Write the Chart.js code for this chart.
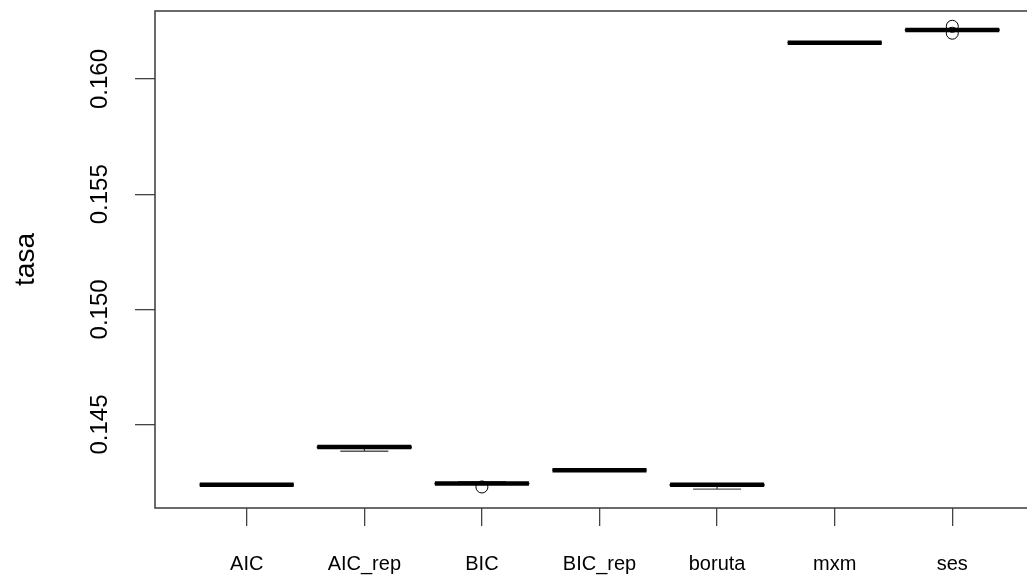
<!DOCTYPE html>
<html>
<head>
<meta charset="utf-8">
<script src="https://cdn.jsdelivr.net/npm/chart.js@4"></script>
<style>
  html, body { margin: 0; padding: 0; background: #fff; overflow: hidden; }
  canvas { display: block; }
</style>
</head>
<body>
<canvas id="chart" width="1044" height="580"></canvas>
<script>
// values
const categories = ["AIC", "AIC_rep", "BIC", "BIC_rep", "boruta", "mxm", "ses"];
const medians    = [0.14239, 0.14403, 0.14244, 0.14302, 0.14239, 0.16158, 0.16213];
const q1         = [0.14239, 0.14399, 0.14243, 0.14302, 0.14236, 0.16158, 0.16212];
const q3         = [0.14239, 0.14404, 0.14245, 0.14302, 0.14240, 0.16158, 0.16214];
const whiskLow   = [0.14239, 0.14384, 0.14243, 0.14302, 0.14220, 0.16158, 0.16212];
const whiskHigh  = [0.14239, 0.14404, 0.14252, 0.14302, 0.14240, 0.16158, 0.16214];
const outliers   = [[], [], [0.14229], [], [], [], [0.16229, 0.16199]];
const yTicks     = [0.145, 0.150, 0.155, 0.160];

const FONT = "'Liberation Sans', Arial, sans-serif";

const pts = arr => arr.map((v, i) => ({x: i + 1, y: v}));
const outlierPts = [];
outliers.forEach((list, i) => list.forEach(v => outlierPts.push({x: i + 1, y: v})));

// boxes, whiskers, frame and rotated y labels
const boxPlugin = {
    id: 'boxPlugin',
    beforeDatasetsDraw(chart) {
        const {ctx, scales: {x, y}} = chart;
        const half = (x.getPixelForValue(1.4) - x.getPixelForValue(1));
        ctx.save();
        categories.forEach((c, i) => {
            const cx = x.getPixelForValue(i + 1);
            // whiskers (dashed)
            ctx.strokeStyle = '#000';
            ctx.lineWidth = 1;
            ctx.setLineDash([4, 3]);
            ctx.beginPath();
            ctx.moveTo(cx, y.getPixelForValue(q3[i]));
            ctx.lineTo(cx, y.getPixelForValue(whiskHigh[i]));
            ctx.moveTo(cx, y.getPixelForValue(q1[i]));
            ctx.lineTo(cx, y.getPixelForValue(whiskLow[i]));
            ctx.stroke();
            ctx.setLineDash([]);
            // box
            const top = y.getPixelForValue(q3[i]);
            const bot = y.getPixelForValue(q1[i]);
            ctx.fillStyle = '#fff';
            ctx.fillRect(cx - half, top, half * 2, bot - top);
            ctx.strokeRect(cx - half, top, half * 2, bot - top);
        });
        ctx.restore();
    },
    afterDraw(chart) {
        const {ctx, chartArea: a, scales: {y}} = chart;
        ctx.save();
        ctx.strokeStyle = '#3a3a3a';
        ctx.lineWidth = 1.5;
        ctx.strokeRect(a.left, a.top, a.right - a.left, a.bottom - a.top);
        ctx.fillStyle = '#000';
        ctx.font = '24px ' + FONT;
        ctx.textAlign = 'center';
        ctx.textBaseline = 'middle';
        yTicks.forEach(v => {
            ctx.save();
            ctx.translate(100, y.getPixelForValue(v));
            ctx.rotate(-Math.PI / 2);
            ctx.fillText(v.toFixed(3), 0, 0);
            ctx.restore();
        });
        ctx.restore();
    }
};

new Chart(document.getElementById('chart'), {
    type: 'scatter',
    data: {
        datasets: [
            {   // medians
                data: pts(medians),
                pointStyle: 'line',
                pointRadius: 47,
                pointBorderWidth: 4.5,
                borderColor: '#000',
                backgroundColor: '#000'
            },
            {   // outliers
                data: outlierPts,
                pointStyle: 'circle',
                pointRadius: 6,
                pointBorderWidth: 1,
                borderColor: '#000',
                backgroundColor: 'rgba(0,0,0,0)'
            },
            {   // lower caps
                data: pts(whiskLow),
                pointStyle: 'line',
                pointRadius: 24,
                pointBorderWidth: 1.3,
                borderColor: '#555'
            },
            {   // upper caps
                data: pts(whiskHigh),
                pointStyle: 'line',
                pointRadius: 24,
                pointBorderWidth: 1.3,
                borderColor: '#555'
            }
        ]
    },
    options: {
        responsive: false,
        animation: false,
        devicePixelRatio: 1,
        events: [],
        layout: { autoPadding: false, padding: { top: 11, left: 0, right: 0, bottom: 0 } },
        plugins: { legend: { display: false }, tooltip: { enabled: false } },
        scales: {
            x: {
                type: 'linear',
                min: 0.22,
                max: 7.78,
                afterBuildTicks: s => { s.ticks = categories.map((c, i) => ({value: i + 1})); },
                afterFit: s => { s.height = 72; },
                border: { display: false },
                grid: { drawOnChartArea: false, tickLength: 18, color: '#444', lineWidth: 1.3 },
                ticks: {
                    color: '#000',
                    padding: 26,
                    maxRotation: 0,
                    autoSkip: false,
                    font: { family: FONT, size: 20 },
                    callback: v => categories[v - 1]
                }
            },
            y: {
                type: 'linear',
                min: 0.141377,
                max: 0.162954,
                afterBuildTicks: s => { s.ticks = yTicks.map(v => ({value: v})); },
                afterFit: s => { s.width = 155; },
                border: { display: false },
                grid: { drawOnChartArea: false, tickLength: 20, color: '#444', lineWidth: 1.3 },
                ticks: { display: false },
                title: {
                    display: true,
                    text: 'tasa',
                    color: '#000',
                    font: { family: FONT, size: 28 },
                    padding: { top: 9, bottom: 0 }
                }
            }
        }
    },
    plugins: [boxPlugin]
});
</script>
</body>
</html>
